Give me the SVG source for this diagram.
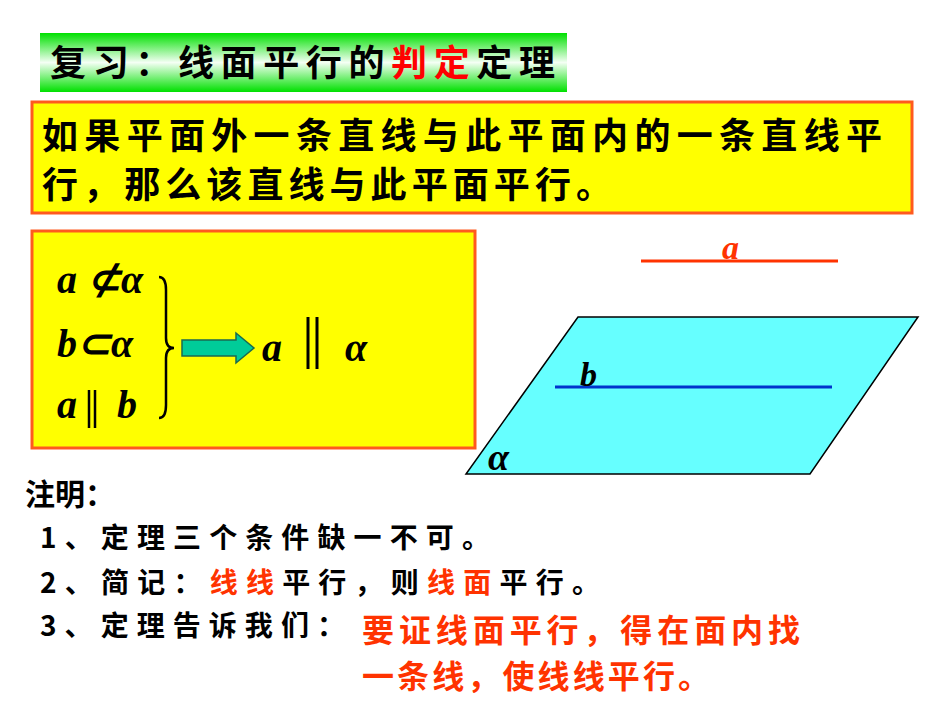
<svg xmlns="http://www.w3.org/2000/svg" width="950" height="713" viewBox="0 0 950 713">
<defs>
<linearGradient id="g" x1="0" y1="0" x2="0" y2="1">
<stop offset="0" stop-color="#00e000"/><stop offset="0.5" stop-color="#f4fff4"/><stop offset="1" stop-color="#00e000"/>
</linearGradient>
</defs>
<style>
.cn{font-family:"Noto Sans CJK SC",sans-serif;font-weight:bold}
.m{font-family:"Liberation Serif",serif;font-weight:bold;font-style:italic}
.r{fill:#ff3300}
</style>
<rect width="950" height="713" fill="#fff"/>
<g id="title">
<rect x="40" y="33" width="527" height="59" fill="url(#g)"/>
<text x="50" y="76" class="cn" font-size="36" textLength="505" lengthAdjust="spacing">复习：线面平行的<tspan fill="#ff0000">判定</tspan>定理</text>
</g>
<g id="theorem">
<rect x="32" y="102" width="880" height="111" fill="#ffff00" stroke="#ff5a1e" stroke-width="3"/>
<text x="42" y="149" class="cn" font-size="36" textLength="840" lengthAdjust="spacing">如果平面外一条直线与此平面内的一条直线平</text>
<text x="42" y="198" class="cn" font-size="36" textLength="570" lengthAdjust="spacing">行，那么该直线与此平面平行。</text>
</g>
<g id="formula">
<rect x="32" y="231" width="443" height="217" fill="#ffff00" stroke="#ff5a1e" stroke-width="3"/>
<text x="57" y="293" class="m" font-size="40">a ⊄α</text>
<text x="57" y="357" class="m" font-size="40">b⊂α</text>
<text x="57" y="418" class="m" font-size="40">a</text>
<line x1="89" y1="390" x2="89" y2="428" stroke="#000" stroke-width="2.5"/>
<line x1="95" y1="390" x2="95" y2="428" stroke="#000" stroke-width="2.5"/>
<text x="117" y="418" class="m" font-size="40">b</text>
<path d="M159,277 Q166,277 166,290 L166,338 Q166,348 174,348 Q166,348 166,358 L166,405 Q166,418 159,418" fill="none" stroke="#000" stroke-width="2.5"/>
<polygon points="182,340 236,340 236,333 254,348 236,363 236,356 182,356" fill="#00cc99" stroke="#1a6a50" stroke-width="1.5"/>
<text x="262" y="361" class="m" font-size="40">a</text>
<line x1="308" y1="317" x2="308" y2="369" stroke="#000" stroke-width="3"/>
<line x1="317" y1="317" x2="317" y2="369" stroke="#000" stroke-width="3"/>
<text x="345" y="361" class="m" font-size="40">α</text>
</g>
<g id="plane">
<polygon points="578,317 918,317 810,474 466,474" fill="#66ffff" stroke="#000" stroke-width="1.5"/>
<text x="488" y="470" class="m" font-size="38">α</text>
<line x1="555" y1="387" x2="832" y2="387" stroke="#0033cc" stroke-width="3"/>
<text x="580" y="386" class="m" font-size="34">b</text>
</g>
<g id="lineA">
<line x1="641" y1="261" x2="838" y2="261" stroke="#ff3300" stroke-width="3"/>
<text x="722" y="259" class="m r" font-size="34">a</text>
</g>
<g id="notes">
<text x="25" y="505" class="cn" font-size="30">注明：</text>
<text x="40" y="548" class="cn" font-size="28" textLength="450" lengthAdjust="spacing">1、定理三个条件缺一不可。</text>
<text x="40" y="593" class="cn" font-size="28" textLength="560" lengthAdjust="spacing">2、简记：<tspan fill="#ff3300">线线</tspan>平行，则<tspan fill="#ff3300">线面</tspan>平行。</text>
<text x="40" y="636" class="cn" font-size="28" textLength="305" lengthAdjust="spacing">3、定理告诉我们：</text>
<text x="362" y="642" class="cn r" font-size="32" textLength="438" lengthAdjust="spacing">要证线面平行，得在面内找</text>
<text x="362" y="688" class="cn r" font-size="32" textLength="348" lengthAdjust="spacing">一条线，使线线平行。</text>
</g>
</svg>
